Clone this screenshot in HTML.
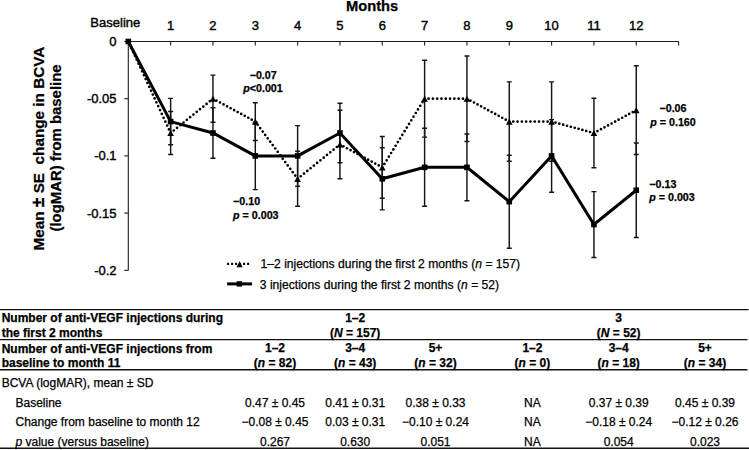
<!DOCTYPE html>
<html><head><meta charset="utf-8"><style>
html,body{margin:0;padding:0;background:#fff;}
body{width:749px;height:450px;overflow:hidden;}
svg{display:block;}
text{font-family:"Liberation Sans", sans-serif;fill:#000;stroke:#000;stroke-width:0.25px;}
</style></head><body>
<svg width="749" height="450" viewBox="0 0 749 450">
<path d="M128.3,41.5 H678.6 M678.6,41.5 V45.5" stroke="#1a1a1a" stroke-width="1.1" fill="none"/>
<path d="M128.3,41.5 V270.5" stroke="#1a1a1a" stroke-width="1.1" fill="none"/>
<path d="M124.3,41.50 H128.3" stroke="#1a1a1a" stroke-width="1.1"/>
<path d="M124.3,98.70 H128.3" stroke="#1a1a1a" stroke-width="1.1"/>
<path d="M124.3,155.90 H128.3" stroke="#1a1a1a" stroke-width="1.1"/>
<path d="M124.3,213.10 H128.3" stroke="#1a1a1a" stroke-width="1.1"/>
<path d="M124.3,270.30 H128.3" stroke="#1a1a1a" stroke-width="1.1"/>
<path d="M170.63,41.5 V45.5" stroke="#1a1a1a" stroke-width="1.1"/>
<path d="M212.96,41.5 V45.5" stroke="#1a1a1a" stroke-width="1.1"/>
<path d="M255.29,41.5 V45.5" stroke="#1a1a1a" stroke-width="1.1"/>
<path d="M297.62,41.5 V45.5" stroke="#1a1a1a" stroke-width="1.1"/>
<path d="M339.95,41.5 V45.5" stroke="#1a1a1a" stroke-width="1.1"/>
<path d="M382.28,41.5 V45.5" stroke="#1a1a1a" stroke-width="1.1"/>
<path d="M424.61,41.5 V45.5" stroke="#1a1a1a" stroke-width="1.1"/>
<path d="M466.94,41.5 V45.5" stroke="#1a1a1a" stroke-width="1.1"/>
<path d="M509.27,41.5 V45.5" stroke="#1a1a1a" stroke-width="1.1"/>
<path d="M551.60,41.5 V45.5" stroke="#1a1a1a" stroke-width="1.1"/>
<path d="M593.93,41.5 V45.5" stroke="#1a1a1a" stroke-width="1.1"/>
<path d="M636.26,41.5 V45.5" stroke="#1a1a1a" stroke-width="1.1"/>
<text x="116.60" y="46.00" font-size="13" font-weight="normal" text-anchor="end" style="stroke-width:0.4px" >0</text>
<text x="116.60" y="103.20" font-size="13" font-weight="normal" text-anchor="end" style="stroke-width:0.4px" >-0.05</text>
<text x="116.60" y="160.40" font-size="13" font-weight="normal" text-anchor="end" style="stroke-width:0.4px" >-0.1</text>
<text x="116.60" y="217.60" font-size="13" font-weight="normal" text-anchor="end" style="stroke-width:0.4px" >-0.15</text>
<text x="116.60" y="274.80" font-size="13" font-weight="normal" text-anchor="end" style="stroke-width:0.4px" >-0.2</text>
<text x="170.63" y="30.20" font-size="13" font-weight="normal" text-anchor="middle" style="stroke-width:0.4px" >1</text>
<text x="212.96" y="30.20" font-size="13" font-weight="normal" text-anchor="middle" style="stroke-width:0.4px" >2</text>
<text x="255.29" y="30.20" font-size="13" font-weight="normal" text-anchor="middle" style="stroke-width:0.4px" >3</text>
<text x="297.62" y="30.20" font-size="13" font-weight="normal" text-anchor="middle" style="stroke-width:0.4px" >4</text>
<text x="339.95" y="30.20" font-size="13" font-weight="normal" text-anchor="middle" style="stroke-width:0.4px" >5</text>
<text x="382.28" y="30.20" font-size="13" font-weight="normal" text-anchor="middle" style="stroke-width:0.4px" >6</text>
<text x="424.61" y="30.20" font-size="13" font-weight="normal" text-anchor="middle" style="stroke-width:0.4px" >7</text>
<text x="466.94" y="30.20" font-size="13" font-weight="normal" text-anchor="middle" style="stroke-width:0.4px" >8</text>
<text x="509.27" y="30.20" font-size="13" font-weight="normal" text-anchor="middle" style="stroke-width:0.4px" >9</text>
<text x="551.60" y="30.20" font-size="13" font-weight="normal" text-anchor="middle" style="stroke-width:0.4px" >10</text>
<text x="593.93" y="30.20" font-size="13" font-weight="normal" text-anchor="middle" style="stroke-width:0.4px" >11</text>
<text x="636.26" y="30.20" font-size="13" font-weight="normal" text-anchor="middle" style="stroke-width:0.4px" >12</text>
<text x="115.30" y="26.60" font-size="13" font-weight="normal" text-anchor="middle" style="stroke-width:0.4px" >Baseline</text>
<text x="372.10" y="11.00" font-size="14.7" font-weight="bold" text-anchor="middle" >Months</text>
<g transform="translate(43.7,148.6) rotate(-90)"><text x="0" y="0" font-size="15.3" font-weight="bold" text-anchor="middle" xml:space="preserve">Mean <tspan font-size="17.5">±</tspan> SE  change in BCVA</text></g>
<g transform="translate(60.5,148) rotate(-90)"><text x="0" y="0" font-size="14.9" font-weight="bold" text-anchor="middle">(logMAR) from baseline</text></g>
<path d="M170.63,111.52 V154.52 M168.13,111.52 H173.13 M168.13,154.52 H173.13" stroke="#151515" stroke-width="1.45" fill="none"/>
<path d="M170.63,98.38 V144.78 M168.13,98.38 H173.13 M168.13,144.78 H173.13" stroke="#151515" stroke-width="1.45" fill="none"/>
<path d="M212.96,75.10 V122.30 M210.46,75.10 H215.46 M210.46,122.30 H215.46" stroke="#151515" stroke-width="1.45" fill="none"/>
<path d="M212.96,107.72 V158.32 M210.46,107.72 H215.46 M210.46,158.32 H215.46" stroke="#151515" stroke-width="1.45" fill="none"/>
<path d="M255.29,102.68 V140.48 M252.79,102.68 H257.79 M252.79,140.48 H257.79" stroke="#151515" stroke-width="1.45" fill="none"/>
<path d="M255.29,122.20 V189.60 M252.79,122.20 H257.79 M252.79,189.60 H257.79" stroke="#151515" stroke-width="1.45" fill="none"/>
<path d="M297.62,151.28 V206.28 M295.12,151.28 H300.12 M295.12,206.28 H300.12" stroke="#151515" stroke-width="1.45" fill="none"/>
<path d="M297.62,125.60 V186.20 M295.12,125.60 H300.12 M295.12,186.20 H300.12" stroke="#151515" stroke-width="1.45" fill="none"/>
<path d="M339.95,110.26 V178.66 M337.45,110.26 H342.45 M337.45,178.66 H342.45" stroke="#151515" stroke-width="1.45" fill="none"/>
<path d="M339.95,103.32 V162.72 M337.45,103.32 H342.45 M337.45,162.72 H342.45" stroke="#151515" stroke-width="1.45" fill="none"/>
<path d="M382.28,136.44 V198.24 M379.78,136.44 H384.78 M379.78,198.24 H384.78" stroke="#151515" stroke-width="1.45" fill="none"/>
<path d="M382.28,147.68 V209.88 M379.78,147.68 H384.78 M379.78,209.88 H384.78" stroke="#151515" stroke-width="1.45" fill="none"/>
<path d="M424.61,60.30 V137.10 M422.11,60.30 H427.11 M422.11,137.10 H427.11" stroke="#151515" stroke-width="1.45" fill="none"/>
<path d="M424.61,128.34 V206.34 M422.11,128.34 H427.11 M422.11,206.34 H427.11" stroke="#151515" stroke-width="1.45" fill="none"/>
<path d="M466.94,55.90 V141.50 M464.44,55.90 H469.44 M464.44,141.50 H469.44" stroke="#151515" stroke-width="1.45" fill="none"/>
<path d="M466.94,133.94 V200.74 M464.44,133.94 H469.44 M464.44,200.74 H469.44" stroke="#151515" stroke-width="1.45" fill="none"/>
<path d="M509.27,81.88 V161.28 M506.77,81.88 H511.77 M506.77,161.28 H511.77" stroke="#151515" stroke-width="1.45" fill="none"/>
<path d="M509.27,155.16 V248.16 M506.77,155.16 H511.77 M506.77,248.16 H511.77" stroke="#151515" stroke-width="1.45" fill="none"/>
<path d="M551.60,81.88 V161.28 M549.10,81.88 H554.10 M549.10,161.28 H554.10" stroke="#151515" stroke-width="1.45" fill="none"/>
<path d="M551.60,119.60 V192.20 M549.10,119.60 H554.10 M549.10,192.20 H554.10" stroke="#151515" stroke-width="1.45" fill="none"/>
<path d="M593.93,98.32 V167.72 M591.43,98.32 H596.43 M591.43,167.72 H596.43" stroke="#151515" stroke-width="1.45" fill="none"/>
<path d="M593.93,191.64 V257.44 M591.43,191.64 H596.43 M591.43,257.44 H596.43" stroke="#151515" stroke-width="1.45" fill="none"/>
<path d="M636.26,65.84 V154.44 M633.76,65.84 H638.76 M633.76,154.44 H638.76" stroke="#151515" stroke-width="1.45" fill="none"/>
<path d="M636.26,143.02 V237.42 M633.76,143.02 H638.76 M633.76,237.42 H638.76" stroke="#151515" stroke-width="1.45" fill="none"/>
<path d="M129.56,44.22h0 M131.35,48.09h0 M133.14,51.97h0 M134.93,55.84h0 M136.72,59.71h0 M138.51,63.58h0 M140.30,67.45h0 M142.09,71.32h0 M143.88,75.19h0 M145.67,79.06h0 M147.46,82.93h0 M149.26,86.81h0 M151.05,90.68h0 M152.84,94.55h0 M154.63,98.42h0 M156.42,102.29h0 M158.21,106.16h0 M160.00,110.03h0 M161.79,113.90h0 M163.58,117.78h0 M165.37,121.65h0 M167.16,125.52h0 M168.95,129.39h0 M173.74,130.50h0 M177.02,127.84h0 M180.30,125.18h0 M183.59,122.51h0 M186.87,119.85h0 M190.15,117.19h0 M193.44,114.53h0 M196.72,111.87h0 M200.00,109.21h0 M203.29,106.54h0 M206.57,103.88h0 M209.85,101.22h0 M216.48,100.60h0 M220.01,102.51h0 M223.54,104.42h0 M227.07,106.32h0 M230.60,108.23h0 M234.12,110.14h0 M237.65,112.05h0 M241.18,113.96h0 M244.71,115.86h0 M248.24,117.77h0 M251.77,119.68h0 M257.67,124.80h0 M260.17,128.18h0 M262.68,131.56h0 M265.18,134.95h0 M267.69,138.33h0 M270.19,141.72h0 M272.70,145.10h0 M275.20,148.49h0 M277.71,151.87h0 M280.21,155.26h0 M282.72,158.64h0 M285.22,162.03h0 M287.73,165.41h0 M290.23,168.80h0 M292.74,172.18h0 M295.24,175.56h0 M300.73,176.26h0 M304.01,173.60h0 M307.29,170.94h0 M310.58,168.27h0 M313.86,165.61h0 M317.14,162.95h0 M320.43,160.29h0 M323.71,157.63h0 M326.99,154.97h0 M330.28,152.30h0 M333.56,149.64h0 M336.84,146.98h0 M343.47,146.36h0 M347.00,148.27h0 M350.53,150.18h0 M354.06,152.08h0 M357.59,153.99h0 M361.12,155.90h0 M364.64,157.81h0 M368.17,159.72h0 M371.70,161.62h0 M375.23,163.53h0 M378.76,165.44h0 M384.38,163.94h0 M386.62,160.30h0 M388.87,156.66h0 M391.11,153.02h0 M393.35,149.39h0 M395.59,145.75h0 M397.84,142.11h0 M400.08,138.48h0 M402.32,134.84h0 M404.57,131.20h0 M406.81,127.56h0 M409.05,123.93h0 M411.30,120.29h0 M413.54,116.65h0 M415.78,113.02h0 M418.02,109.38h0 M420.27,105.74h0 M422.51,102.10h0 M428.61,98.70h0 M432.90,98.70h0 M437.19,98.70h0 M441.48,98.70h0 M445.77,98.70h0 M450.07,98.70h0 M454.36,98.70h0 M458.65,98.70h0 M462.94,98.70h0 M470.46,100.60h0 M473.99,102.51h0 M477.52,104.42h0 M481.05,106.32h0 M484.58,108.23h0 M488.11,110.14h0 M491.63,112.05h0 M495.16,113.96h0 M498.69,115.86h0 M502.22,117.77h0 M505.75,119.68h0 M513.27,121.58h0 M517.56,121.58h0 M521.85,121.58h0 M526.14,121.58h0 M530.43,121.58h0 M534.73,121.58h0 M539.02,121.58h0 M543.31,121.58h0 M547.60,121.58h0 M555.46,122.62h0 M559.31,123.66h0 M563.15,124.70h0 M567.00,125.74h0 M570.84,126.78h0 M574.69,127.82h0 M578.53,128.86h0 M582.38,129.90h0 M586.22,130.94h0 M590.07,131.98h0 M597.45,131.12h0 M600.98,129.21h0 M604.51,127.30h0 M608.04,125.40h0 M611.57,123.49h0 M615.10,121.58h0 M618.62,119.67h0 M622.15,117.76h0 M625.68,115.86h0 M629.21,113.95h0 M632.74,112.04h0" stroke="#000" stroke-width="2.7" stroke-linecap="round" fill="none"/>
<path d="M170.63,130.02 L173.93,136.12 L167.33,136.12 Z" fill="#000"/>
<path d="M212.96,95.70 L216.26,101.80 L209.66,101.80 Z" fill="#000"/>
<path d="M255.29,118.58 L258.59,124.68 L251.99,124.68 Z" fill="#000"/>
<path d="M297.62,175.78 L300.92,181.88 L294.32,181.88 Z" fill="#000"/>
<path d="M339.95,141.46 L343.25,147.56 L336.65,147.56 Z" fill="#000"/>
<path d="M382.28,164.34 L385.58,170.44 L378.98,170.44 Z" fill="#000"/>
<path d="M424.61,95.70 L427.91,101.80 L421.31,101.80 Z" fill="#000"/>
<path d="M466.94,95.70 L470.24,101.80 L463.64,101.80 Z" fill="#000"/>
<path d="M509.27,118.58 L512.57,124.68 L505.97,124.68 Z" fill="#000"/>
<path d="M551.60,118.58 L554.90,124.68 L548.30,124.68 Z" fill="#000"/>
<path d="M593.93,130.02 L597.23,136.12 L590.63,136.12 Z" fill="#000"/>
<path d="M636.26,107.14 L639.56,113.24 L632.96,113.24 Z" fill="#000"/>
<polyline points="128.30,41.50 170.63,121.58 212.96,133.02 255.29,155.90 297.62,155.90 339.95,133.02 382.28,178.78 424.61,167.34 466.94,167.34 509.27,201.66 551.60,155.90 593.93,224.54 636.26,190.22" stroke="#000" stroke-width="3" fill="none" stroke-linejoin="miter"/>
<rect x="125.50" y="38.70" width="5.6" height="5.6" fill="#000"/>
<rect x="167.83" y="118.78" width="5.6" height="5.6" fill="#000"/>
<rect x="210.16" y="130.22" width="5.6" height="5.6" fill="#000"/>
<rect x="252.49" y="153.10" width="5.6" height="5.6" fill="#000"/>
<rect x="294.82" y="153.10" width="5.6" height="5.6" fill="#000"/>
<rect x="337.15" y="130.22" width="5.6" height="5.6" fill="#000"/>
<rect x="379.48" y="175.98" width="5.6" height="5.6" fill="#000"/>
<rect x="421.81" y="164.54" width="5.6" height="5.6" fill="#000"/>
<rect x="464.14" y="164.54" width="5.6" height="5.6" fill="#000"/>
<rect x="506.47" y="198.86" width="5.6" height="5.6" fill="#000"/>
<rect x="548.80" y="153.10" width="5.6" height="5.6" fill="#000"/>
<rect x="591.13" y="221.74" width="5.6" height="5.6" fill="#000"/>
<rect x="633.46" y="187.42" width="5.6" height="5.6" fill="#000"/>
<text x="263.20" y="78.70" font-size="10.7" font-weight="bold" text-anchor="middle" >−0.07</text>
<text x="263.00" y="91.90" font-size="10.7" font-weight="bold" text-anchor="middle" ><tspan font-style="italic">p</tspan>&lt;0.001</text>
<text x="233.10" y="204.80" font-size="10.7" font-weight="bold" text-anchor="start" >−0.10</text>
<text x="233.10" y="218.60" font-size="10.7" font-weight="bold" text-anchor="start" ><tspan font-style="italic">p</tspan> = 0.003</text>
<text x="673.00" y="112.30" font-size="10.7" font-weight="bold" text-anchor="middle" >−0.06</text>
<text x="673.00" y="126.00" font-size="10.7" font-weight="bold" text-anchor="middle" ><tspan font-style="italic">p</tspan> = 0.160</text>
<text x="649.30" y="188.40" font-size="10.7" font-weight="bold" text-anchor="start" >−0.13</text>
<text x="649.30" y="201.40" font-size="10.7" font-weight="bold" text-anchor="start" ><tspan font-style="italic">p</tspan> = 0.003</text>
<path d="M227.1,263.9 H250" stroke="#000" stroke-width="2.2" stroke-dasharray="2 2"/>
<path d="M239.60,261.20 L242.70,267.30 L236.50,267.30 Z" fill="#000"/>
<path d="M227.1,283.9 H252" stroke="#000" stroke-width="3"/>
<rect x="236.70" y="281.20" width="5.4" height="5.4" fill="#000"/>
<text x="260.60" y="267.80" font-size="12.12" font-weight="normal" text-anchor="start" >1–2 injections during the first 2 months (<tspan font-style="italic">n</tspan> = 157)</text>
<text x="259.80" y="288.70" font-size="12.12" font-weight="normal" text-anchor="start" >3 injections during the first 2 months (<tspan font-style="italic">n</tspan> = 52)</text>
<path d="M0,309.6 H748.5" stroke="#111" stroke-width="1.4"/>
<path d="M0,339.6 H747.5" stroke="#111" stroke-width="1.4"/>
<path d="M0,369.8 H747.5" stroke="#111" stroke-width="1.4"/>
<path d="M0,448.2 H749" stroke="#111" stroke-width="1.6"/>
<text x="1.70" y="322.20" font-size="12" font-weight="bold" text-anchor="start" >Number of anti-VEGF injections during</text>
<text x="1.70" y="336.60" font-size="12" font-weight="bold" text-anchor="start" >the first 2 months</text>
<text x="1.70" y="352.80" font-size="12" font-weight="bold" text-anchor="start" >Number of anti-VEGF injections from</text>
<text x="1.70" y="367.20" font-size="12" font-weight="bold" text-anchor="start" >baseline to month 11</text>
<text x="355.20" y="322.10" font-size="12" font-weight="bold" text-anchor="middle" >1–2</text>
<text x="355.20" y="336.90" font-size="12" font-weight="bold" text-anchor="middle" >(<tspan font-style="italic">N</tspan> = 157)</text>
<text x="618.70" y="322.10" font-size="12" font-weight="bold" text-anchor="middle" >3</text>
<text x="618.70" y="336.90" font-size="12" font-weight="bold" text-anchor="middle" >(<tspan font-style="italic">N</tspan> = 52)</text>
<text x="275.00" y="352.40" font-size="12" font-weight="bold" text-anchor="middle" >1–2</text>
<text x="275.00" y="367.20" font-size="12" font-weight="bold" text-anchor="middle" >(<tspan font-style="italic">n</tspan> = 82)</text>
<text x="355.20" y="352.40" font-size="12" font-weight="bold" text-anchor="middle" >3–4</text>
<text x="355.20" y="367.20" font-size="12" font-weight="bold" text-anchor="middle" >(<tspan font-style="italic">n</tspan> = 43)</text>
<text x="435.50" y="352.40" font-size="12" font-weight="bold" text-anchor="middle" >5+</text>
<text x="435.50" y="367.20" font-size="12" font-weight="bold" text-anchor="middle" >(<tspan font-style="italic">n</tspan> = 32)</text>
<text x="532.40" y="352.40" font-size="12" font-weight="bold" text-anchor="middle" >1–2</text>
<text x="532.40" y="367.20" font-size="12" font-weight="bold" text-anchor="middle" >(<tspan font-style="italic">n</tspan> = 0)</text>
<text x="618.70" y="352.40" font-size="12" font-weight="bold" text-anchor="middle" >3–4</text>
<text x="618.70" y="367.20" font-size="12" font-weight="bold" text-anchor="middle" >(<tspan font-style="italic">n</tspan> = 18)</text>
<text x="705.00" y="352.40" font-size="12" font-weight="bold" text-anchor="middle" >5+</text>
<text x="705.00" y="367.20" font-size="12" font-weight="bold" text-anchor="middle" >(<tspan font-style="italic">n</tspan> = 34)</text>
<text x="1.70" y="386.90" font-size="12" font-weight="normal" text-anchor="start" >BCVA (logMAR), mean ± SD</text>
<text x="15.50" y="406.60" font-size="12" font-weight="normal" text-anchor="start" >Baseline</text>
<text x="275.00" y="406.60" font-size="12" font-weight="normal" text-anchor="middle" >0.47 ± 0.45</text>
<text x="355.20" y="406.60" font-size="12" font-weight="normal" text-anchor="middle" >0.41 ± 0.31</text>
<text x="435.50" y="406.60" font-size="12" font-weight="normal" text-anchor="middle" >0.38 ± 0.33</text>
<text x="532.40" y="406.60" font-size="12" font-weight="normal" text-anchor="middle" >NA</text>
<text x="618.70" y="406.60" font-size="12" font-weight="normal" text-anchor="middle" >0.37 ± 0.39</text>
<text x="705.00" y="406.60" font-size="12" font-weight="normal" text-anchor="middle" >0.45 ± 0.39</text>
<text x="15.50" y="426.20" font-size="12" font-weight="normal" text-anchor="start" >Change from baseline to month 12</text>
<text x="275.00" y="426.20" font-size="12" font-weight="normal" text-anchor="middle" >−0.08 ± 0.45</text>
<text x="355.20" y="426.20" font-size="12" font-weight="normal" text-anchor="middle" >0.03 ± 0.31</text>
<text x="435.50" y="426.20" font-size="12" font-weight="normal" text-anchor="middle" >−0.10 ± 0.24</text>
<text x="532.40" y="426.20" font-size="12" font-weight="normal" text-anchor="middle" >NA</text>
<text x="618.70" y="426.20" font-size="12" font-weight="normal" text-anchor="middle" >−0.18 ± 0.24</text>
<text x="705.00" y="426.20" font-size="12" font-weight="normal" text-anchor="middle" >−0.12 ± 0.26</text>
<text x="15.50" y="445.70" font-size="12" font-weight="normal" text-anchor="start" ><tspan font-style="italic">p</tspan> value (versus baseline)</text>
<text x="275.00" y="445.70" font-size="12" font-weight="normal" text-anchor="middle" >0.267</text>
<text x="355.20" y="445.70" font-size="12" font-weight="normal" text-anchor="middle" >0.630</text>
<text x="435.50" y="445.70" font-size="12" font-weight="normal" text-anchor="middle" >0.051</text>
<text x="532.40" y="445.70" font-size="12" font-weight="normal" text-anchor="middle" >NA</text>
<text x="618.70" y="445.70" font-size="12" font-weight="normal" text-anchor="middle" >0.054</text>
<text x="705.00" y="445.70" font-size="12" font-weight="normal" text-anchor="middle" >0.023</text>
</svg>
</body></html>
